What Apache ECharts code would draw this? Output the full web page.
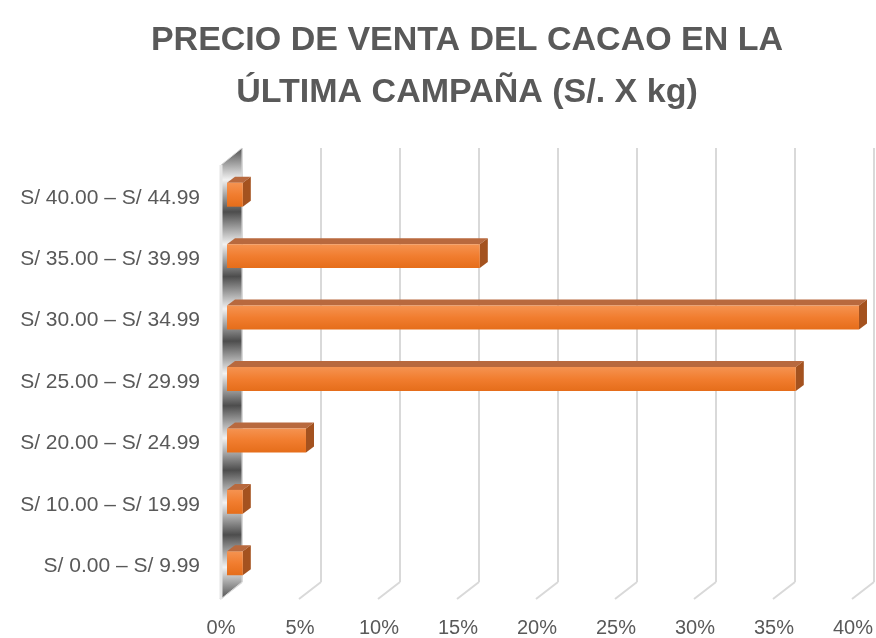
<!DOCTYPE html>
<html>
<head>
<meta charset="utf-8">
<script src="https://cdn.jsdelivr.net/npm/echarts@6/dist/echarts.min.js"></script>
<style>
  html, body { margin: 0; padding: 0; background: #fff; }
  #chart { width: 876px; height: 638px; }
</style>
</head>
<body>
<div id="chart"></div>
<script>
const categories = [
  'S/ 0.00 – S/ 9.99',
  'S/ 10.00 – S/ 19.99',
  'S/ 20.00 – S/ 24.99',
  'S/ 25.00 – S/ 29.99',
  'S/ 30.00 – S/ 34.99',
  'S/ 35.00 – S/ 39.99',
  'S/ 40.00 – S/ 44.99'
]
const percents = [1, 1, 5, 36, 40, 16, 1]
const ticks = [0, 5, 10, 15, 20, 25, 30, 35, 40]

const chart = echarts.init(document.getElementById('chart'))

const FONT = "'Liberation Sans', sans-serif"

// back wall / floor lines for the fake 3D look
const renderGrid = (params, api) => {
  const t = api.value(0)
  const band = api.size([0, 1])[1]
  const bottom = api.coord([t, 0])[1] + band / 2
  const top = api.coord([t, categories.length - 1])[1] - band / 2
  const x = api.coord([t, 0])[0]
  const style = { stroke: '#d9d9d9', lineWidth: 2 }
  return {
    type: 'group',
    children: [
      { type: 'line', shape: { x1: x + 15, y1: top - 13, x2: x + 15, y2: bottom - 9 }, style },
      { type: 'line', shape: { x1: x + 15, y1: bottom - 9, x2: x - 7, y2: bottom + 8 }, style }
    ]
  }
}

const renderWall = (params, api) => {
  const band = api.size([0, 1])[1]
  const x = api.coord([0, 0])[0]
  const bottom = api.coord([0, 0])[1] + band / 2
  const top = api.coord([0, categories.length - 1])[1] - band / 2
  const stops = []
  const n = 14
  for (let i = 0; i <= n; i++) {
    stops.push({ offset: i / n, color: i % 2 === 0 ? '#4d4d4d' : '#f2f2f2' })
  }
  return {
    type: 'group',
    children: [
      {
        type: 'polygon',
        shape: {
          points: [[x - 6, top + 4], [x + 15, top - 13], [x + 15, bottom - 9], [x - 6, bottom + 8]]
        },
        style: {
          fill: new echarts.graphic.LinearGradient(0, 0, 0.3, 1, stops),
          stroke: '#d9d9d9',
          lineWidth: 1
        }
      },
      {
        type: 'line',
        shape: { x1: x - 6, y1: top + 4, x2: x - 6, y2: bottom + 8 },
        style: { stroke: '#e6e6e6', lineWidth: 3 }
      }
    ]
  }
}

const renderBar = (params, api) => {
  const v = api.value(0)
  const idx = api.value(1)
  const start = api.coord([0, idx])
  const end = api.coord([v, idx])
  const band = api.size([0, 1])[1]
  const h = band * 0.39
  const dx = 8
  const dy = 6
  const y0 = start[1] - h / 2 + 3
  const y1 = y0 + h
  const x0 = start[0]
  const x1 = end[0]
  return {
    type: 'group',
    children: [
      {
        type: 'polygon',
        shape: { points: [[x0, y0], [x0 + dx, y0 - dy], [x1 + dx, y0 - dy], [x1, y0]] },
        style: { fill: '#b8693e' }
      },
      {
        type: 'polygon',
        shape: { points: [[x1, y0], [x1 + dx, y0 - dy], [x1 + dx, y1 - dy], [x1, y1]] },
        style: { fill: '#a4521f' }
      },
      {
        type: 'rect',
        shape: { x: x0, y: y0, width: x1 - x0, height: h },
        style: {
          fill: new echarts.graphic.LinearGradient(0, 0, 0, 1, [
            { offset: 0, color: '#f59351' },
            { offset: 0.5, color: '#f17d2f' },
            { offset: 1, color: '#e56d1a' }
          ])
        }
      }
    ]
  }
}

const option = {
  backgroundColor: '#ffffff',
  animation: false,
  title: {
    text: 'PRECIO DE VENTA DEL CACAO EN LA\nÚLTIMA CAMPAÑA (S/. X kg)',
    left: 462,
    top: 10,
    textAlign: 'center',
    textStyle: {
      fontFamily: FONT,
      fontSize: 34,
      fontWeight: 'bold',
      color: '#595959',
      lineHeight: 52
    }
  },
  grid: {
    left: 227,
    right: 17,
    top: 161,
    bottom: 46
  },
  xAxis: {
    type: 'value',
    min: 0,
    max: 40,
    interval: 5,
    axisLine: { show: false },
    axisTick: { show: false },
    splitLine: { show: false },
    axisLabel: {
      formatter: '{value}%',
      margin: 27,
      fontFamily: FONT,
      fontSize: 20,
      color: '#595959',
      padding: [0, 12, 0, 0]
    }
  },
  yAxis: {
    type: 'category',
    data: categories,
    axisLine: { show: false },
    axisTick: { show: false },
    splitLine: { show: false },
    axisLabel: {
      margin: 27,
      fontFamily: FONT,
      fontSize: 21,
      color: '#595959',
      verticalAlign: 'top',
      lineHeight: 12
    }
  },
  series: [
    {
      type: 'custom',
      name: 'grid',
      clip: false,
      silent: true,
      z: 1,
      renderItem: renderGrid,
      data: ticks.map(t => [t])
    },
    {
      type: 'custom',
      name: 'wall',
      clip: false,
      silent: true,
      z: 2,
      renderItem: renderWall,
      data: [[0]]
    },
    {
      type: 'custom',
      name: 'Porcentaje',
      clip: false,
      z: 3,
      renderItem: renderBar,
      encode: { x: 0, y: 1 },
      data: percents.map((v, i) => [v, i])
    }
  ]
}

chart.setOption(option)
window.addEventListener('resize', () => { chart.resize() })
</script>
</body>
</html>
